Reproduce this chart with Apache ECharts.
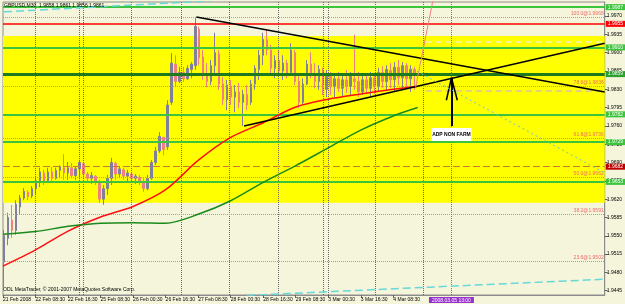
<!DOCTYPE html>
<html><head><meta charset="utf-8">
<script src="https://cdn.jsdelivr.net/npm/echarts@6/dist/echarts.min.js"></script>
<style>html,body{margin:0;padding:0;background:#f5f5dc}#c{width:625px;height:304px}</style>
</head><body><div id="c"></div>
<script>
// ---- data ----
const timeLabels = ['21 Feb 2008','22 Feb 08:30','22 Feb 16:30','25 Feb 08:30','26 Feb 00:30','26 Feb 16:30','27 Feb 08:30','28 Feb 00:30','28 Feb 16:30','29 Feb 08:30','3 Mar 00:30','3 Mar 16:30','4 Mar 08:30'];
const labelIdx = [0,16,32,48,64,80,96,112,128,144,160,176,192];
const priceTicks = [1.9970,1.9935,1.9900,1.9865,1.9830,1.9795,1.9760,1.9725,1.9690,1.9655,1.9620,1.9585,1.9550,1.9515,1.9480,1.9445];

const barOpen  = [1.9500,1.9545,1.9580,1.9560,1.9605,1.9622,1.9633,1.9626,1.9640,1.9655,1.9670,1.9655,1.9672,1.9660,1.9675,1.9680,1.9670,1.9680,1.9665,1.9678,1.9688,1.9668,1.9660,1.9664,1.9652,1.9620,1.9640,1.9660,1.9688,1.9668,1.9676,1.9664,1.9668,1.9660,1.9662,1.9652,1.9640,1.9660,1.9690,1.9712,1.9738,1.9720,1.9805,1.9878,1.9845,1.9862,1.9850,1.9868,1.9875,1.9945,1.9892,1.9860,1.9845,1.9875,1.9898,1.9840,1.9810,1.9836,1.9815,1.9825,1.9805,1.9820,1.9805,1.9840,1.9868,1.9895,1.9925,1.9905,1.9870,1.9885,1.9865,1.9880,1.9862,1.9900,1.9845,1.9805,1.9840,1.9878,1.9860,1.9845,1.9866,1.9830,1.9855,1.9835,1.9850,1.9832,1.9848,1.9836,1.9850,1.9845,1.9825,1.9848,1.9832,1.9852,1.9835,1.9862,1.9845,1.9866,1.9848,1.9872,1.9852,1.9875,1.9850,1.9868];
const barClose = [1.9550,1.9585,1.9560,1.9610,1.9622,1.9635,1.9625,1.9640,1.9655,1.9672,1.9652,1.9672,1.9660,1.9675,1.9682,1.9670,1.9680,1.9665,1.9678,1.9690,1.9668,1.9660,1.9665,1.9652,1.9620,1.9640,1.9660,1.9690,1.9668,1.9678,1.9664,1.9670,1.9660,1.9664,1.9652,1.9640,1.9660,1.9690,1.9712,1.9740,1.9715,1.9800,1.9880,1.9845,1.9862,1.9850,1.9870,1.9878,1.9950,1.9890,1.9860,1.9845,1.9875,1.9900,1.9840,1.9810,1.9838,1.9815,1.9825,1.9805,1.9820,1.9800,1.9840,1.9870,1.9895,1.9925,1.9905,1.9870,1.9885,1.9865,1.9880,1.9860,1.9905,1.9845,1.9805,1.9840,1.9878,1.9860,1.9845,1.9868,1.9830,1.9855,1.9835,1.9850,1.9832,1.9848,1.9836,1.9855,1.9845,1.9825,1.9848,1.9832,1.9852,1.9835,1.9862,1.9845,1.9868,1.9848,1.9872,1.9852,1.9875,1.9850,1.9868,1.9861];
const barLow   = [1.9452,1.9532,1.9546,1.9552,1.9590,1.9618,1.9618,1.9622,1.9628,1.9643,1.9647,1.9651,1.9653,1.9657,1.9660,1.9657,1.9657,1.9660,1.9657,1.9664,1.9660,1.9653,1.9649,1.9647,1.9613,1.9609,1.9628,1.9647,1.9657,1.9660,1.9657,1.9653,1.9653,1.9649,1.9647,1.9634,1.9637,1.9657,1.9685,1.9708,1.9704,1.9714,1.9800,1.9834,1.9842,1.9844,1.9848,1.9851,1.9867,1.9876,1.9848,1.9834,1.9838,1.9857,1.9829,1.9800,1.9790,1.9800,1.9786,1.9794,1.9760,1.9790,1.9800,1.9829,1.9848,1.9876,1.9895,1.9857,1.9851,1.9857,1.9848,1.9851,1.9857,1.9838,1.9794,1.9800,1.9838,1.9851,1.9832,1.9829,1.9819,1.9815,1.9819,1.9815,1.9825,1.9817,1.9823,1.9819,1.9829,1.9815,1.9819,1.9823,1.9817,1.9821,1.9825,1.9832,1.9829,1.9832,1.9825,1.9838,1.9832,1.9829,1.9825,1.9829];
const barHigh  = [1.9561,1.9594,1.9609,1.9618,1.9628,1.9641,1.9637,1.9645,1.9662,1.9680,1.9676,1.9680,1.9682,1.9680,1.9685,1.9706,1.9691,1.9689,1.9683,1.9695,1.9690,1.9672,1.9672,1.9666,1.9657,1.9647,1.9666,1.9699,1.9692,1.9683,1.9680,1.9676,1.9672,1.9668,1.9666,1.9660,1.9666,1.9695,1.9720,1.9748,1.9739,1.9809,1.9899,1.9895,1.9873,1.9873,1.9876,1.9882,1.9968,1.9950,1.9905,1.9880,1.9886,1.9938,1.9905,1.9853,1.9848,1.9848,1.9838,1.9842,1.9829,1.9838,1.9848,1.9876,1.9905,1.9938,1.9943,1.9915,1.9895,1.9905,1.9895,1.9886,1.9918,1.9905,1.9857,1.9851,1.9886,1.9901,1.9880,1.9876,1.9871,1.9867,1.9863,1.9857,1.9863,1.9857,1.9867,1.9863,1.9934,1.9863,1.9857,1.9861,1.9863,1.9859,1.9871,1.9874,1.9876,1.9880,1.9882,1.9886,1.9882,1.9880,1.9876,1.9873];

const maIdx   = [0,16,32,48,64,80,96,112,128,144,160,176,192,204];
const maRed   = [1.9492,1.9523,1.9559,1.9586,1.9606,1.9638,1.9694,1.9738,1.9766,1.9796,1.9811,1.9821,1.9830,1.9836];
const maGreen = [1.9553,1.9558,1.9568,1.9574,1.9575,1.9574,1.9591,1.9617,1.9652,1.9684,1.9718,1.9752,1.9779,1.9795];

const greenLevels = [1.9987,1.9910,1.9782,1.9729,1.9653];
const darkGreenLevel = 1.9859;
const redLevel = 1.9955;
const dashLevel = 1.9682;
const bidPrice = 1.9861;
const fibPct   = ['100.0','78.6','61.8','50.0','38.2','23.6'];
const fibPrice = [1.9968,1.9836,1.9736,1.9662,1.9591,1.9502];
const zoneTop = 1.9932, zoneBottom = 1.9613;
const paleLevels = [1.9921,1.9827];
const sepIdx = [15.7,37.7,39.7,63.2,87.7,111.3,135.3,157.4,159.8,183.3,206.9];
const eventIdx = 220.6;

const upperTrend = [[95.1,1.9968],[296,1.9825]];
const lowerTrend = [[118.6,1.9760],[296,1.9918]];
const salmonTrend = [[203,1.9834],[211.5,2.0000]];
const cyanDotted = [[201.5,1.9869],[296,1.9670]];
const cyanTop = [[0.5,1.9978],[102.5,1.9999]];
const cyanBottom = [[120,1.9436],[296,1.9467]];

// ---- chart ----
const yMin = 1.94368, yMax = 1.99968;
const FONT = 'Liberation Sans';
const barIdx = barOpen.map((_, k) => 0.5 + k * 1.96);
const candleData = barOpen.map((o, k) => [barIdx[k], o, barClose[k], barLow[k], barHigh[k]]);
const pair = (a, b) => a.map((v, k) => [v, b[k]]);

function boxLabel(v, bg) {
  return {show:true, position:'end', formatter:v.toFixed(4), backgroundColor:bg, color:'#fff',
          fontSize:5, fontFamily:FONT, padding:[1,2,0,2], distance:1};
}
const levelData = [];
greenLevels.forEach(v => levelData.push({yAxis:v, lineStyle:{color:'#3cc43c', width:2, type:'solid'}, label:boxLabel(v,'#3cc43c')}));
levelData.push({yAxis:darkGreenLevel, lineStyle:{color:'#1e7a1e', width:3, type:'solid'}, label:boxLabel(darkGreenLevel,'#2ca02c')});
levelData.push({yAxis:redLevel, lineStyle:{color:'#ff0000', width:1.5, type:'solid'}, label:boxLabel(redLevel,'#ff0000')});
levelData.push({yAxis:dashLevel, lineStyle:{color:'#cc7a33', width:1, type:[7,3]}, label:boxLabel(dashLevel,'#c00000')});
levelData.push({yAxis:bidPrice, lineStyle:{opacity:0}, label:boxLabel(bidPrice,'#000000')});
fibPrice.forEach((v, k) => levelData.push({yAxis:v, lineStyle:{color:'#f08080', width:1, type:'dotted'},
  label:{show:true, position:'insideEndTop', formatter:fibPct[k] + '@' + v.toFixed(4), color:'#f06a6a', fontSize:5, fontFamily:FONT, distance:1}}));
const paleColors = ['#f2f2b8','#d8c49a'];
paleLevels.forEach((v, k) => levelData.push([{coord:[208, v], lineStyle:{color:paleColors[k], width:1.5, type:[6,4]}, label:{show:false}}, {coord:[296, v]}]));

const option = {
  animation:false,
  backgroundColor:'#f5f5dc',
  textStyle:{fontFamily:FONT},
  grid:{left:1, right:20, top:2, bottom:9, show:true, borderColor:'#8c8c8c', borderWidth:1, backgroundColor:'#f5f5dc'},
  xAxis:{type:'value', min:0, max:296,
    axisLine:{show:true, onZero:false, lineStyle:{color:'#8c8c8c'}},
    axisTick:{show:true, customValues:labelIdx, length:3, lineStyle:{color:'#606060'}},
    axisLabel:{customValues:labelIdx, formatter:v => timeLabels[labelIdx.indexOf(v)] || '', align:'left', margin:2, fontSize:5, color:'#000', fontFamily:FONT},
    splitLine:{show:false}},
  yAxis:{type:'value', position:'right', min:yMin, max:yMax, scale:true,
    axisLine:{show:true, onZero:false, lineStyle:{color:'#8c8c8c'}},
    axisTick:{show:true, customValues:priceTicks, length:3, lineStyle:{color:'#606060'}},
    axisLabel:{customValues:priceTicks, formatter:v => v.toFixed(4), fontSize:5, margin:2, color:'#000', fontFamily:FONT},
    splitLine:{show:false}},
  series:[
    {type:'line', z:1, data:[[0, zoneTop]], symbol:'none', lineStyle:{opacity:0}, silent:true,
     markArea:{silent:true, itemStyle:{color:'#ffff00'}, data:[[{yAxis:zoneTop},{yAxis:zoneBottom}]]}},
    {type:'line', z:2, data:[], silent:true,
     markLine:{silent:true, precision:6, symbol:'none', label:{show:false}, lineStyle:{color:'#6a6a6a', type:'dotted', width:1},
       data: sepIdx.map(v => ({xAxis:v}))}},
    {type:'line', z:3, data:[], silent:true,
     markLine:{silent:true, precision:6, symbol:'none', data:levelData}},
    {type:'candlestick', z:4, data:candleData, encode:{x:0, y:[1,2,3,4]}, barWidth:2,
     itemStyle:{color:'#80809a', color0:'#f08080', borderColor:'#80809a', borderColor0:'#f08080', borderWidth:1}},
    {type:'line', z:5, data:pair(maIdx, maRed), symbol:'none', smooth:0.3, lineStyle:{color:'#ff1010', width:1.5}},
    {type:'line', z:5, data:pair(maIdx, maGreen), symbol:'none', smooth:0.3, lineStyle:{color:'#1a8a1a', width:1.5}},
    {type:'line', z:6, data:upperTrend, symbol:'none', lineStyle:{color:'#000', width:1.5}},
    {type:'line', z:6, data:lowerTrend, symbol:'none', lineStyle:{color:'#000', width:1.5}},
    {type:'line', z:6, data:salmonTrend, symbol:'none', lineStyle:{color:'#f08080', width:1}},
    {type:'line', z:6, data:cyanDotted, symbol:'none', lineStyle:{color:'#5fc8c8', width:1, type:[2,3]}},
    {type:'line', z:6, data:cyanTop, symbol:'none', lineStyle:{color:'#66d8d8', width:1.5, type:[8,4]}},
    {type:'line', z:6, data:cyanBottom, symbol:'none', lineStyle:{color:'#66d8d8', width:1.5, type:[8,4]}},
    {type:'line', z:7, data:[], silent:true,
     markLine:{silent:true, precision:6, symbol:'none', data:[
       {xAxis:eventIdx, lineStyle:{color:'#b040e0', type:'dotted', width:1},
        label:{show:true, position:'start', formatter:'2008.03.05 13:00', backgroundColor:'#9932cc', color:'#fff', fontSize:5, fontFamily:FONT, padding:[1,3,0,3], distance:2}},
       [{coord:[eventIdx,1.9760], lineStyle:{color:'#000', width:2, type:'solid'}, label:{show:false}}, {coord:[eventIdx,1.9852]}],
       [{coord:[eventIdx,1.9852], lineStyle:{color:'#000', width:1.5, type:'solid'}, label:{show:false}}, {coord:[218.1,1.9809]}],
       [{coord:[eventIdx,1.9852], lineStyle:{color:'#000', width:1.5, type:'solid'}, label:{show:false}}, {coord:[223.5,1.9809]}]
     ]},
     markPoint:{silent:true, data:[{coord:[eventIdx,1.97435], symbol:'rect', symbolSize:[40,13], itemStyle:{color:'#fff'},
       label:{show:true, position:'inside', formatter:'ADP NON FARM', color:'#000', fontSize:5, fontWeight:'bold', fontFamily:FONT}}]}}
  ],
  graphic:[
    {type:'text', left:4, top:3, z:100, style:{text:'GBPUSD,M30  1.9858 1.9861 1.9856 1.9861', fontSize:5, fill:'#000', fontFamily:FONT}},
    {type:'text', left:3, top:287, z:100, style:{text:'ODL MetaTrader, \u00A9 2001-2007 MetaQuotes Software Corp.', fontSize:5, fill:'#000', fontFamily:FONT}}
  ]
};
const chart = echarts.init(document.getElementById('c'), null, {renderer:'canvas'});
chart.setOption(option);
</script></body></html>
